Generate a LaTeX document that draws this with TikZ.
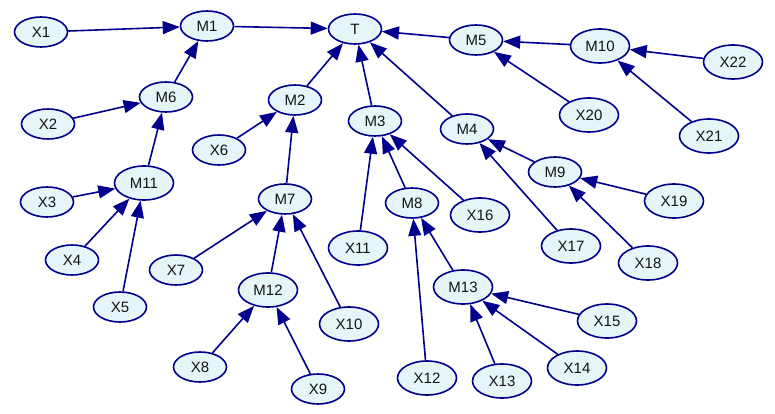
\documentclass[tikz,border=0pt]{standalone}
\usepackage{fontspec}
\setmainfont{Liberation Sans}
\usetikzlibrary{shapes.geometric,arrows.meta}
\definecolor{edgeblue}{RGB}{0,0,140}
\definecolor{nodefill}{RGB}{230,245,248}
\definecolor{txt}{RGB}{20,20,20}
\tikzset{
  nd/.style={ellipse,draw=edgeblue,line width=1.6pt,fill=nodefill,inner sep=0pt,
    minimum width=53pt,minimum height=30pt,font=\fontsize{15}{17}\selectfont,text=txt},
  ndw/.style={nd,minimum width=59pt,minimum height=34pt},
  ed/.style={draw=edgeblue,line width=1.6pt,-{Triangle[length=17pt,width=13pt]}}
}
\begin{document}
\begin{tikzpicture}[x=1pt,y=-1pt]
\useasboundingbox (0,0) rectangle (775,414);
\node[nd] (X1) at (41,32) {X1};
\node[nd] (M1) at (207,26) {M1};
\node[nd] (T) at (355,29) {T};
\node[nd] (M5) at (476,40) {M5};
\node[ndw] (M10) at (600,46) {M10};
\node[ndw] (X22) at (733,62) {X22};
\node[nd] (M6) at (166,97) {M6};
\node[nd] (X2) at (48,124) {X2};
\node[nd] (M2) at (295,100) {M2};
\node[nd] (X6) at (219,150) {X6};
\node[nd] (M3) at (375,121) {M3};
\node[nd] (M4) at (467,129) {M4};
\node[ndw] (X20) at (589,115) {X20};
\node[ndw] (X21) at (709,136) {X21};
\node[nd] (M9) at (555,172) {M9};
\node[ndw] (X19) at (674,201) {X19};
\node[nd] (X3) at (47,202) {X3};
\node[ndw] (M11) at (144,183) {M11};
\node[nd] (M7) at (285,199) {M7};
\node[nd] (M8) at (412,203) {M8};
\node[ndw] (X16) at (480,215) {X16};
\node[ndw] (X11) at (358,248) {X11};
\node[ndw] (X17) at (571,246) {X17};
\node[ndw] (X18) at (648,263) {X18};
\node[nd] (X4) at (72,260) {X4};
\node[nd] (X7) at (176,270) {X7};
\node[ndw] (M12) at (268,290) {M12};
\node[ndw] (X10) at (349,324) {X10};
\node[ndw] (M13) at (463,287) {M13};
\node[ndw] (X15) at (607,321) {X15};
\node[nd] (X5) at (120,307) {X5};
\node[nd] (X8) at (200,367) {X8};
\node[nd] (X9) at (318,389) {X9};
\node[ndw] (X12) at (427,378) {X12};
\node[ndw] (X13) at (502,381) {X13};
\node[ndw] (X14) at (577,368) {X14};
\foreach \a/\b in {X1/M1,M1/T,M6/M1,X2/M6,M11/M6,X3/M11,X4/M11,X5/M11,
  M2/T,X6/M2,M7/M2,X7/M7,M12/M7,X10/M7,X8/M12,X9/M12,
  M3/T,X11/M3,M8/M3,X16/M3,X12/M8,M13/M8,X13/M13,X14/M13,X15/M13,
  M4/T,M9/M4,X17/M4,X19/M9,X18/M9,
  M5/T,M10/M5,X20/M5,X22/M10,X21/M10}
  \draw[ed] (\a) -- (\b);
\end{tikzpicture}
\end{document}
